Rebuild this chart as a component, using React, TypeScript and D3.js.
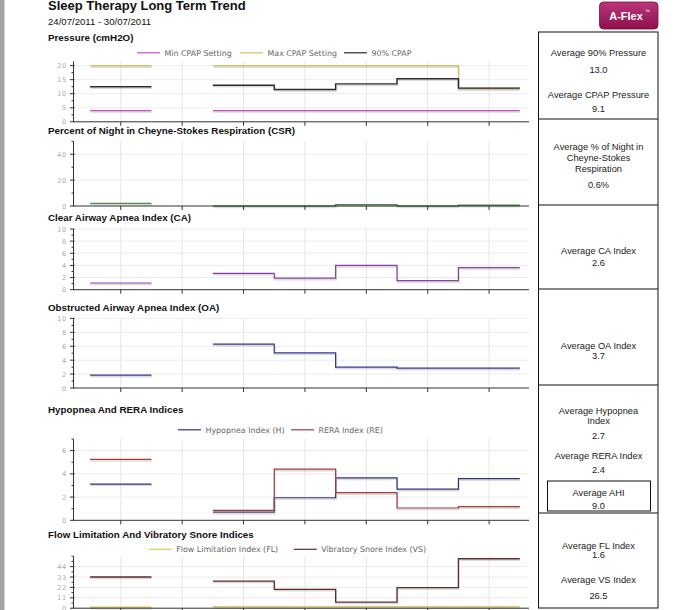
import React from "react";
import * as d3 from "d3";

// ---------- DATA ----------
const days = ["24/07/2011", "25/07/2011", "26/07/2011", "27/07/2011", "28/07/2011", "29/07/2011", "30/07/2011"];
const minCpap = [4, null, 4, 4, 4, 4, 4];
const maxCpap = [20, null, 20, 20, 20, 20, 12];
const cpap90 = [12.5, null, 13.0, 11.5, 13.5, 15.3, 12.0];
const csrPct = [2.0, null, 0, 0, 1.0, 0, 0.6];
const caIndex = [1.1, null, 2.7, 1.9, 4.0, 1.5, 3.65];
const oaIndex = [1.85, null, 6.3, 5.05, 3.0, 2.85, 2.85];
const hIndex = [3.12, null, 0.7, 1.94, 3.65, 2.68, 3.59];
const reIndex = [5.24, null, 0.85, 4.41, 2.38, 1.06, 1.18];
const flIndex = [1.0, null, 1.6, 1.6, 1.6, 1.6, 1.6];
const vsIndex = [33.0, null, 28.7, 20.0, 6.5, 21.8, 52.3];

const pressureTicks = [0, 5, 10, 15, 20];
const csrTicks = [0, 20, 40];
const apneaTicks = [0, 2, 4, 6, 8, 10];
const hreTicks = [0, 2, 4, 6];
const snoreTicks = [0, 11, 22, 33, 44];

const summaryTexts: [string, number][] = [
  ["Average 90% Pressure", 53], ["13.0", 70], ["Average CPAP Pressure", 94.5], ["9.1", 109],
  ["Average % of Night in", 146.5], ["Cheyne-Stokes", 157.5], ["Respiration", 168.5], ["0.6%", 185],
  ["Average CA Index", 250.5], ["2.6", 263],
  ["Average OA Index", 345.5], ["3.7", 355.5],
  ["Average Hypopnea", 411], ["Index", 421], ["2.7", 435.5], ["Average RERA Index", 455.5], ["2.4", 470],
  ["Average AHI", 492.5], ["9.0", 506],
  ["Average FL Index", 546], ["1.6", 554.5], ["Average VS Index", 579.5], ["26.5", 595.5],
];
const rowLines = [32, 119, 205, 289, 385, 513, 608];

// ---------- LAYOUT ----------
const X0 = 73.5, X1 = 529;
const x = d3.scaleLinear().domain([-0.77, 6.65]).range([X0, X1]);
const dayIdx = days.map((_, i) => i);

type S = { name: string; values: (number | null)[]; color: string; w?: number };

function stepPath(values: (number | null)[], y: d3.ScaleLinear<number, number>) {
  const pts: ([number, number] | null)[] = [];
  values.forEach((v, i) => {
    if (v == null) { pts.push(null); return; }
    pts.push([i - 0.5, v]);
    pts.push([i + 0.5, v]);
  });
  return d3.line<[number, number] | null>()
    .defined((d) => d != null)
    .x((d) => x((d as [number, number])[0]))
    .y((d) => y((d as [number, number])[1]))(pts) || "";
}

type ChartProps = {
  title: string; titleY: number; legendY?: number; legendX?: number[];
  domainMax: number; bottom: number; top: number; ticks: number[]; minorStep: number;
  series: S[]; legendSeries?: S[];
};

const Chart = ({ title, titleY, legendY, legendX, domainMax, bottom, top, ticks, minorStep, series, legendSeries }: ChartProps) => {
  const y = d3.scaleLinear().domain([0, domainMax]).range([bottom, top]);
  const minor = d3.range(0, domainMax + 0.001, minorStep).filter((v) => !ticks.includes(v));
  return (
    <g>
      <text x={48} y={titleY} fontFamily="Liberation Sans, Arial, sans-serif" fontWeight="bold" fontSize={9.8} fill="#111">{title}</text>
      {legendSeries && legendX && legendY != null && legendSeries.map((s, i) => (
        <g key={s.name}>
          <line x1={legendX[i]} x2={legendX[i] + 23} y1={legendY} y2={legendY} stroke={s.color} strokeWidth={1.2} />
          <text x={legendX[i] + 27.5} y={legendY + 2.8} fontFamily="DejaVu Sans, Verdana, sans-serif" fontSize={7.9} fill="#666">{s.name}</text>
        </g>
      ))}
      {ticks.filter((t) => t > 0).map((t) => (
        <line key={"hg" + t} x1={X0} x2={X1} y1={y(t)} y2={y(t)} stroke="#ececec" strokeWidth={1} />
      ))}
      {dayIdx.map((i) => (
        <line key={"vg" + i} x1={x(i)} x2={x(i)} y1={top} y2={bottom} stroke="#e6e6e6" strokeWidth={1} />
      ))}
      {series.map((s) => (
        <g key={s.name}>
          <path d={stepPath(s.values, y)} fill="none" stroke="#999" strokeOpacity={0.35} strokeWidth={1.6} transform="translate(0.5,1.5)" />
          <path d={stepPath(s.values, y)} fill="none" stroke={s.color} strokeWidth={s.w ?? 1.2} />
        </g>
      ))}
      <line x1={X0} x2={X0} y1={top} y2={bottom} stroke="#333" strokeWidth={1} />
      <line x1={X0} x2={X1} y1={bottom} y2={bottom} stroke="#333" strokeWidth={1} />
      {ticks.map((t) => (
        <g key={"t" + t}>
          <line x1={X0 - 3.5} x2={X0 + 1} y1={y(t)} y2={y(t)} stroke="#333" />
          <text x={67} y={y(t) + 2.5} textAnchor="end" fontFamily="DejaVu Sans, Verdana, sans-serif" fontSize={6.5} letterSpacing={0.8} fill="#aaa">{t}</text>
        </g>
      ))}
      {minor.map((t) => (
        <line key={"m" + t} x1={X0 - 2} x2={X0} y1={y(t)} y2={y(t)} stroke="#333" />
      ))}
      {dayIdx.map((i) => (
        <line key={"xt" + i} x1={x(i)} x2={x(i)} y1={bottom} y2={bottom + 4} stroke="#333" />
      ))}
    </g>
  );
};

export default function App() {
  const pressure: S[] = [
    { name: "Min CPAP Setting", values: minCpap, color: "#c84fc8" },
    { name: "Max CPAP Setting", values: maxCpap, color: "#d6c15a" },
    { name: "90% CPAP", values: cpap90, color: "#2a2a2a", w: 1.4 },
  ];
  const csr: S[] = [{ name: "CSR", values: csrPct, color: "#4e8a4e", w: 1.4 }];
  const ca: S[] = [{ name: "CA", values: caIndex, color: "#8a3fa6" }];
  const oa: S[] = [{ name: "OA", values: oaIndex, color: "#33338a" }];
  const hre: S[] = [
    { name: "Hypopnea Index (H)", values: hIndex, color: "#2f2f7a" },
    { name: "RERA Index (RE)", values: reIndex, color: "#a53b3b" },
  ];
  const flvs: S[] = [
    { name: "Flow Limitation Index (FL)", values: flIndex, color: "#d8c860", w: 1.6 },
    { name: "Vibratory Snore Index (VS)", values: vsIndex, color: "#5e2a2a", w: 1.3 },
  ];
  const boxFont = "Liberation Sans, Arial, sans-serif";
  return (
    <svg width={681} height={610} style={{ position: "absolute", left: 0, top: 0, background: "#fff" }}>
      <rect x={0} y={0} width={681} height={610} fill="#fff" />
      <rect x={0} y={0} width={4.5} height={610} fill="#a3a3a3" />
      <text x={48} y={9.5} fontFamily={boxFont} fontWeight="bold" fontSize={13} fill="#111">Sleep Therapy Long Term Trend</text>
      <text x={48} y={25} fontFamily={boxFont} fontSize={9.6} fill="#111">{days[0]} - {days[days.length - 1]}</text>

      {/* A-Flex badge */}
      <defs>
        <linearGradient id="badge" x1="0" y1="0" x2="0" y2="1">
          <stop offset="0" stopColor="#b8377a" />
          <stop offset="1" stopColor="#8f0f4e" />
        </linearGradient>
      </defs>
      <rect x={599.5} y={2} width={58.5} height={27} rx={4} fill="url(#badge)" stroke="#7a0c42" strokeWidth={0.8} />
      <text x={626} y={20} textAnchor="middle" fontFamily={boxFont} fontWeight="bold" fontSize={11} fill="#fff">A-Flex</text>
      <text x={645} y={13} fontFamily={boxFont} fontSize={5} fill="#fff">™</text>

      <Chart title="Pressure (cmH2O)" titleY={40.5} legendY={52.8} legendX={[137, 240, 344]}
        domainMax={21.5} bottom={121.8} top={61.4} ticks={pressureTicks} minorStep={2.5}
        series={pressure} legendSeries={pressure} />
      <Chart title="Percent of Night in Cheyne-Stokes Respiration (CSR)" titleY={134}
        domainMax={50} bottom={206} top={141.3} ticks={csrTicks} minorStep={10} series={csr} />
      <Chart title="Clear Airway Apnea Index (CA)" titleY={220.5}
        domainMax={10} bottom={289.7} top={229} ticks={apneaTicks} minorStep={1} series={ca} />
      <Chart title="Obstructed Airway Apnea Index (OA)" titleY={311}
        domainMax={10} bottom={388} top={318.4} ticks={apneaTicks} minorStep={1} series={oa} />
      <Chart title="Hypopnea And RERA Indices" titleY={413} legendY={429.8} legendX={[178, 291]}
        domainMax={7} bottom={520.3} top={439} ticks={hreTicks} minorStep={1} series={hre} legendSeries={hre} />
      <Chart title="Flow Limitation And Vibratory Snore Indices" titleY={538.3} legendY={549.3} legendX={[148.8, 293.7]}
        domainMax={55} bottom={608.2} top={556.2} ticks={snoreTicks} minorStep={5.5} series={flvs} legendSeries={flvs} />

      {/* summary panel */}
      <rect x={538.5} y={32} width={119.5} height={576} fill="none" stroke="#111" strokeWidth={1} />
      {rowLines.slice(1, -1).map((ly) => (
        <line key={ly} x1={538.5} x2={658} y1={ly} y2={ly} stroke="#111" strokeWidth={1} />
      ))}
      <rect x={547.5} y={481} width={103} height={30} fill="none" stroke="#111" strokeWidth={1} />
      {summaryTexts.map(([t, cy], i) => (
        <text key={i} x={598.5} y={cy + 3.3} textAnchor="middle" fontFamily={boxFont} fontSize={9.3} fill="#222">{t}</text>
      ))}
    </svg>
  );
}
